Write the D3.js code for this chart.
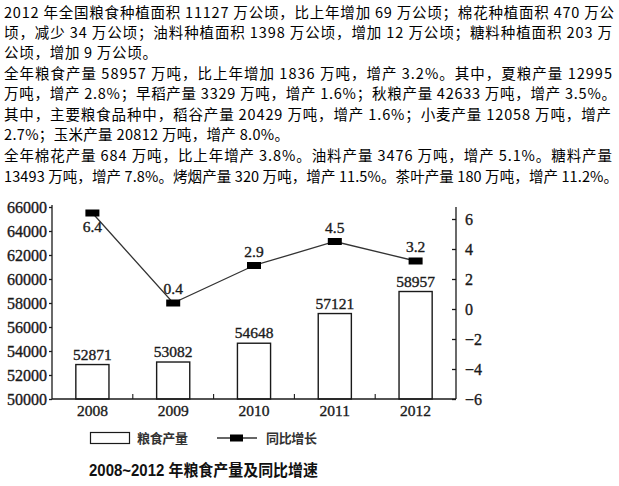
<!DOCTYPE html>
<html>
<head>
<meta charset="utf-8">
<script src="https://cdn.jsdelivr.net/npm/d3@7"></script>
<style>
  html, body { margin: 0; padding: 0; background: #fff; }
  svg { display: block; }
  .num { stroke: #1a1a1a; stroke-width: 0.35px; }
</style>
</head>
<body>
<svg id="chart" width="619" height="486"></svg>
<script>
// ---------- data ----------
const years = ["2008", "2009", "2010", "2011", "2012"];
const grainOutput = [52871, 53082, 54648, 57121, 58957];   // 万吨
const growthRate = [6.4, 0.4, 2.9, 4.5, 3.2];              // %
const leftTicks = [50000, 52000, 54000, 56000, 58000, 60000, 62000, 64000, 66000];
const rightTicks = [-6, -4, -2, 0, 2, 4, 6];
const seriesNames = ["粮食产量", "同比增长"];
const chartTitle = "2008~2012 年粮食产量及同比增速";
const paragraphLines = [
  "2012 年全国粮食种植面积 11127 万公顷，比上年增加 69 万公顷；棉花种植面积 470 万公",
  "顷，减少 34 万公顷；油料种植面积 1398 万公顷，增加 12 万公顷；糖料种植面积 203 万",
  "公顷，增加 9 万公顷。",
  "全年粮食产量 58957 万吨，比上年增加 1836 万吨，增产 3.2%。其中，夏粮产量 12995",
  "万吨，增产 2.8%；早稻产量 3329 万吨，增产 1.6%；秋粮产量 42633 万吨，增产 3.5%。",
  "其中，主要粮食品种中，稻谷产量 20429 万吨，增产 1.6%；小麦产量 12058 万吨，增产",
  "2.7%；玉米产量 20812 万吨，增产 8.0%。",
  "全年棉花产量 684 万吨，比上年增产 3.8%。油料产量 3476 万吨，增产 5.1%。糖料产量",
  "13493 万吨，增产 7.8%。烤烟产量 320 万吨，增产 11.5%。茶叶产量 180 万吨，增产 11.2%。"
];

// ---------- layout ----------
const lineBaselines = [18, 38, 58, 79, 99, 120, 140, 161, 182];
const lineWidths = [610, 608, 153, 608, 612, 607, 285, 608, 614];

const svg = d3.select("#chart");
const serif = "'Liberation Serif', 'Times New Roman', serif";
const cjk = "'Noto Sans CJK SC', sans-serif";

// paragraph text
const para = svg.append("g");
paragraphLines.forEach((t, i) => {
  para.append("text")
    .attr("x", 4)
    .attr("y", lineBaselines[i])
    .attr("textLength", lineWidths[i])
    .attr("lengthAdjust", "spacing")
    .style("font-family", cjk)
    .style("font-size", "14.5px")
    .style("fill", "#000")
    .text(t);
});

// plot geometry
const plotLeft = 52, plotRight = 456, plotTop = 207, plotBottom = 399;

const x = d3.scaleBand().domain(years).range([plotLeft, plotRight])
  .paddingInner(0.59).paddingOuter(0.295);
const yL = d3.scaleLinear().domain([50000, 66000]).range([plotBottom, plotTop]);
const yR = d3.scaleLinear().domain([-6, 6.8]).range([plotBottom, plotTop]);

const ink = "#1a1a1a";

// bars
svg.append("g").selectAll("rect").data(years).join("rect")
  .attr("x", d => x(d))
  .attr("y", (d, i) => yL(grainOutput[i]))
  .attr("width", x.bandwidth())
  .attr("height", (d, i) => plotBottom - yL(grainOutput[i]))
  .attr("fill", "#fff")
  .attr("stroke", ink)
  .attr("stroke-width", 1.4);

// bar value labels
svg.append("g").selectAll("text").data(years).join("text")
  .attr("class", "num")
  .attr("x", d => x(d) + x.bandwidth() / 2)
  .attr("y", (d, i) => yL(grainOutput[i]) - 5)
  .attr("text-anchor", "middle")
  .style("font-family", serif)
  .style("font-size", "15.5px")
  .style("fill", ink)
  .text((d, i) => grainOutput[i]);

// left axis
const axL = svg.append("g").attr("transform", `translate(${plotLeft},0)`)
  .call(d3.axisLeft(yL).tickValues(leftTicks).tickSize(3).tickPadding(2).tickFormat(d3.format("d")));
axL.select(".domain").attr("d", `M-0,${plotTop - 2}V${plotBottom}`);
axL.selectAll("text").attr("class", "num").style("font-family", serif).style("font-size", "16px").style("fill", ink);
axL.selectAll("line, path").attr("stroke", ink).attr("stroke-width", 1.3);

// right axis (ticks point inward)
const axR = svg.append("g").attr("transform", `translate(${plotRight},0)`)
  .call(d3.axisRight(yR).tickValues(rightTicks).tickSize(-4).tickPadding(9)
    .tickFormat(d => d < 0 ? "\u2212" + Math.abs(d) : String(d)));
axR.select(".domain").attr("d", `M0,${plotTop}V${plotBottom}`);
axR.selectAll("text").attr("class", "num").style("font-family", serif).style("font-size", "16px").style("fill", ink);
axR.selectAll("line, path").attr("stroke", ink).attr("stroke-width", 1.3);

// bottom axis: line + inward boundary ticks + year labels
const axB = svg.append("g");
axB.append("line")
  .attr("x1", plotLeft).attr("x2", plotRight)
  .attr("y1", plotBottom).attr("y2", plotBottom)
  .attr("stroke", ink).attr("stroke-width", 1.3);
axB.selectAll("line.b").data(years.slice(1)).join("line")
  .attr("class", "b")
  .attr("x1", d => x(d) - x.step() * x.paddingInner() / 2)
  .attr("x2", d => x(d) - x.step() * x.paddingInner() / 2)
  .attr("y1", plotBottom).attr("y2", plotBottom - 5)
  .attr("stroke", ink).attr("stroke-width", 1.1);
axB.selectAll("text").data(years).join("text")
  .attr("class", "num")
  .attr("x", d => x(d) + x.bandwidth() / 2)
  .attr("y", 416)
  .attr("text-anchor", "middle")
  .style("font-family", serif)
  .style("font-size", "15.5px")
  .style("fill", ink)
  .text(d => d);

// growth line
const line = d3.line()
  .x((d, i) => x(years[i]) + x.bandwidth() / 2)
  .y(d => yR(d));
svg.append("path").datum(growthRate)
  .attr("d", line)
  .attr("fill", "none")
  .attr("stroke", "#333")
  .attr("stroke-width", 1.3);

// markers
svg.append("g").selectAll("rect").data(growthRate).join("rect")
  .attr("x", (d, i) => x(years[i]) + x.bandwidth() / 2 - 7)
  .attr("y", d => yR(d) - 3.5)
  .attr("width", 14)
  .attr("height", 7)
  .attr("fill", "#000");

// growth labels
svg.append("g").selectAll("text").data(growthRate).join("text")
  .attr("class", "num")
  .attr("x", (d, i) => x(years[i]) + x.bandwidth() / 2)
  .attr("y", (d, i) => i === 0 ? yR(d) + 19 : yR(d) - 9)
  .attr("text-anchor", "middle")
  .style("font-family", serif)
  .style("font-size", "15.5px")
  .style("fill", ink)
  .text(d => d.toFixed(1));

// legend
const lg = svg.append("g");
lg.append("rect")
  .attr("x", 90.5).attr("y", 432.5).attr("width", 39).attr("height", 11)
  .attr("fill", "#fff").attr("stroke", ink).attr("stroke-width", 1.2);
lg.append("text")
  .attr("x", 137).attr("y", 443)
  .attr("textLength", 51).attr("lengthAdjust", "spacing")
  .style("font-family", cjk).style("font-size", "13px").style("font-weight", "bold")
  .style("fill", "#333")
  .text(seriesNames[0]);
lg.append("line")
  .attr("x1", 217).attr("x2", 257).attr("y1", 438).attr("y2", 438)
  .attr("stroke", "#333").attr("stroke-width", 1.3);
lg.append("rect")
  .attr("x", 230).attr("y", 434.5).attr("width", 13).attr("height", 7)
  .attr("fill", "#000");
lg.append("text")
  .attr("x", 266).attr("y", 443)
  .attr("textLength", 51).attr("lengthAdjust", "spacing")
  .style("font-family", cjk).style("font-size", "13px").style("font-weight", "bold")
  .style("fill", "#333")
  .text(seriesNames[1]);

// title
svg.append("text")
  .attr("x", 89).attr("y", 476)
  .attr("textLength", 229).attr("lengthAdjust", "spacingAndGlyphs")
  .style("font-family", "'Liberation Sans', 'Noto Sans CJK SC', sans-serif")
  .style("font-size", "16px").style("font-weight", "bold")
  .style("fill", "#111")
  .text(chartTitle);
</script>
</body>
</html>
